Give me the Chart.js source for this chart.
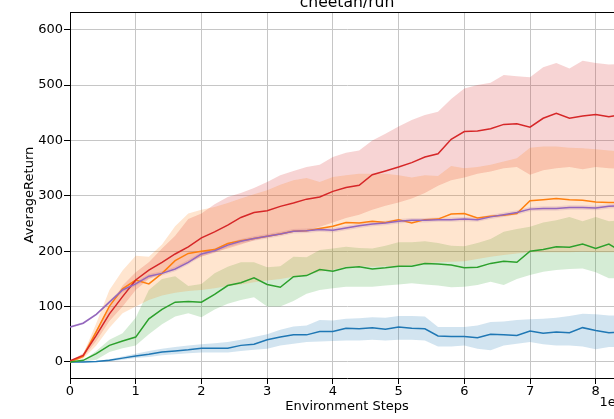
<!DOCTYPE html>
<html>
<head>
<meta charset="utf-8">
<script src="https://cdn.jsdelivr.net/npm/chart.js@4/dist/chart.umd.min.js"></script>
<style>
  html, body { margin: 0; padding: 0; overflow: hidden; background: #fff; width: 614px; height: 419px; }
  #wrap { position: absolute; left: 0; top: 0; width: 640px; height: 419px; }
</style>
</head>
<body>
<div id="wrap"><canvas id="c" width="640" height="419"></canvas></div>
<script>
// Environment steps (x 1e6)
const steps = [0,0.2,0.4,0.6,0.8,1,1.2,1.4,1.6,1.8,2,2.2,2.4,2.6,2.8,3,3.2,3.4,3.6,3.8,4,4.2,4.4,4.6,4.8,5,5.2,5.4,5.6,5.8,6,6.2,6.4,6.6,6.8,7,7.2,7.4,7.6,7.8,8,8.2,8.4];

const blueMean = [0,0,1,3,7,11,14,18,20,22,25,25,25,30,32,40,45,49,49,55,55,61,60,62,59,63,61,60,47,46,46,44,50,49,48,56,52,54,53,62,57,53,54];
const blueHigh = [0,1,2,5,10,15,20,24,27,30,32,34,36,40,45,50,58,64,66,76,75,78,79,81,80,83,83,82,63,63,63,66,72,73,76,77,78,80,83,87,86,84,84];
const blueLow  = [0,0,0,1,4,7,9,12,14,16,17,17,17,20,22,24,30,33,36,37,38,39,39,40,39,40,40,39,28,28,30,24,21,30,33,36,32,30,30,28,23,27,27];

const orangeMean = [0,10,55,101,132,148,141,160,183,196,200,203,214,219,223,227,231,236,237,241,245,252,251,254,252,257,251,257,258,267,268,260,263,265,268,291,293,295,293,292,289,288,288];
const orangeHigh = [2,14,70,130,165,192,190,212,245,268,275,280,287,295,303,310,320,328,332,325,334,337,340,340,340,337,333,337,336,354,350,352,356,362,368,387,389,389,387,386,384,382,380];
const orangeLow  = [0,6,30,62,88,100,112,120,125,128,130,133,137,140,144,147,150,154,157,163,166,172,173,172,173,173,175,178,180,181,182,186,190,193,196,198,198,198,198,199,198,198,198];

const greenMean = [0,3,15,30,38,45,78,95,108,109,108,122,138,143,152,140,135,154,156,167,164,170,172,168,170,173,173,178,177,175,170,171,178,182,180,200,203,208,207,213,205,213,199];
const greenHigh = [0,3,20,40,52,80,130,150,155,137,141,160,172,180,180,171,173,190,189,202,205,208,206,205,210,216,216,218,215,210,209,215,222,235,240,244,252,256,262,254,262,254,256];
const greenLow  = [0,1,4,18,25,30,50,68,82,88,81,95,105,112,117,100,100,110,123,130,133,136,136,136,138,140,142,140,138,135,136,139,145,139,150,157,163,166,168,169,162,151,151];

const redMean = [2,12,48,87,118,148,166,180,195,208,224,235,247,261,270,273,281,287,294,298,308,315,319,338,345,352,360,370,376,402,416,417,421,429,430,424,440,449,440,444,447,443,447];
const redHigh = [2,16,58,100,138,162,180,205,228,258,268,285,298,305,314,325,337,345,352,356,370,378,382,400,412,425,437,446,452,475,494,500,504,518,516,514,532,540,530,544,540,537,538];
const redLow  = [0,8,38,74,100,130,150,160,170,180,190,198,205,212,220,225,230,235,238,244,252,260,266,275,282,288,295,305,318,328,333,340,344,350,352,338,346,350,352,348,352,350,349];

const purpleMean = [63,70,86,108,130,141,155,160,168,180,195,201,211,218,223,227,231,236,237,239,238,242,246,249,251,254,256,256,257,257,258,257,262,266,270,276,277,277,279,279,278,281,282];
const purpleHigh = [65,72,88,111,134,145,159,164,172,184,199,205,215,222,227,231,235,240,241,243,242,246,250,253,255,258,260,260,261,261,262,261,266,270,274,280,281,281,283,283,282,285,286];
const purpleLow  = [61,68,84,105,126,137,151,156,164,176,191,197,207,214,219,223,227,232,233,235,234,238,242,245,247,250,252,252,253,253,254,253,258,262,266,272,273,273,275,275,274,277,278];

const xTicks = [0,1,2,3,4,5,6,7,8];
const yTicks = [0,100,200,300,400,500,600];

const titleText = 'cheetah/run';
const xLabel = 'Environment Steps';
const yLabel = 'AverageReturn';
const offsetText = '1e6';

const FONT = "'DejaVu Sans', sans-serif";
Chart.defaults.font.family = FONT;
Chart.defaults.font.size = 13;
Chart.defaults.color = '#000';

function pts(ys) { return steps.map((x, i) => ({ x: x, y: ys[i] })); }

const series = [
  { rgb: '31,119,180',  mean: blueMean,   low: blueLow,   high: blueHigh },
  { rgb: '255,127,14',  mean: orangeMean, low: orangeLow, high: orangeHigh },
  { rgb: '44,160,44',   mean: greenMean,  low: greenLow,  high: greenHigh },
  { rgb: '214,39,40',   mean: redMean,    low: redLow,    high: redHigh },
  { rgb: '148,103,189', mean: purpleMean, low: purpleLow, high: purpleHigh }
];

const datasets = [];
// shaded spread bands (lower bound, then upper bound filled down to it)
series.forEach(s => {
  datasets.push({ data: pts(s.low), borderColor: 'rgba(0,0,0,0)', borderWidth: 0, pointRadius: 0, fill: false, order: 10 });
  datasets.push({ data: pts(s.high), borderColor: 'rgba(0,0,0,0)', borderWidth: 0, pointRadius: 0, fill: '-1',
                  backgroundColor: 'rgba(' + s.rgb + ',0.2)', order: 10 });
});
// mean curves, later series drawn on top
series.forEach((s, k) => {
  datasets.push({ data: pts(s.mean), borderColor: 'rgb(' + s.rgb + ')', borderWidth: 1.5, pointRadius: 0,
                  fill: false, order: 5 - k });
});

const frame = {
  id: 'frame',
  afterDraw(chart) {
    const { ctx, chartArea: a } = chart;
    ctx.save();
    ctx.strokeStyle = '#000';
    ctx.lineWidth = 1;
    ctx.beginPath();
    ctx.moveTo(a.left, a.top + 0.5);
    ctx.lineTo(a.right, a.top + 0.5);
    ctx.moveTo(a.right - 0.5, a.top);
    ctx.lineTo(a.right - 0.5, a.bottom);
    ctx.stroke();
    ctx.fillStyle = '#000';
    ctx.font = '15.6px ' + FONT;
    ctx.textAlign = 'center';
    ctx.textBaseline = 'alphabetic';
    ctx.fillText(titleText, (a.left + a.right) / 2, a.top - 5);
    ctx.font = '13px ' + FONT;
    ctx.textAlign = 'right';
    ctx.textBaseline = 'top';
    ctx.fillText(offsetText, a.right, a.bottom + 18);
    ctx.restore();
  }
};

new Chart(document.getElementById('c'), {
  type: 'line',
  data: { datasets: datasets },
  plugins: [frame],
  options: {
    responsive: false,
    animation: false,
    events: [],
    layout: { padding: { top: 12, right: 16, left: 0, bottom: 0 } },
    plugins: {
      legend: { display: false },
      tooltip: { enabled: false },
      title: { display: false },
      filler: { drawTime: 'beforeDatasetsDraw' }
    },
    scales: {
      x: {
        type: 'linear', min: 0, max: 8.43,
        afterBuildTicks: sc => { sc.ticks = xTicks.map(v => ({ value: v })); },
        afterFit: sc => { sc.height = 41; },
        grid: { color: '#c6c6c6', lineWidth: 1, tickColor: '#000', tickLength: 6 },
        border: { color: '#000', width: 1 },
        ticks: { padding: 0, maxRotation: 0, autoSkip: false, color: '#000', font: { size: 13 }, callback: v => String(v) },
        title: { display: true, text: xLabel, color: '#000', font: { size: 13 }, padding: { top: 0, bottom: 5 } }
      },
      y: {
        type: 'linear', min: -28.9, max: 631.9,
        afterBuildTicks: sc => { sc.ticks = yTicks.map(v => ({ value: v })); },
        afterFit: sc => { sc.width = 70; },
        grid: { color: '#c6c6c6', lineWidth: 1, tickColor: '#000', tickLength: 6 },
        border: { color: '#000', width: 1 },
        ticks: { padding: 1, color: '#000', font: { size: 13 }, callback: v => String(v) },
        title: { display: true, text: yLabel, color: '#000', font: { size: 13 }, padding: { top: 22, bottom: 0 } }
      }
    }
  }
});
</script>
</body>
</html>
